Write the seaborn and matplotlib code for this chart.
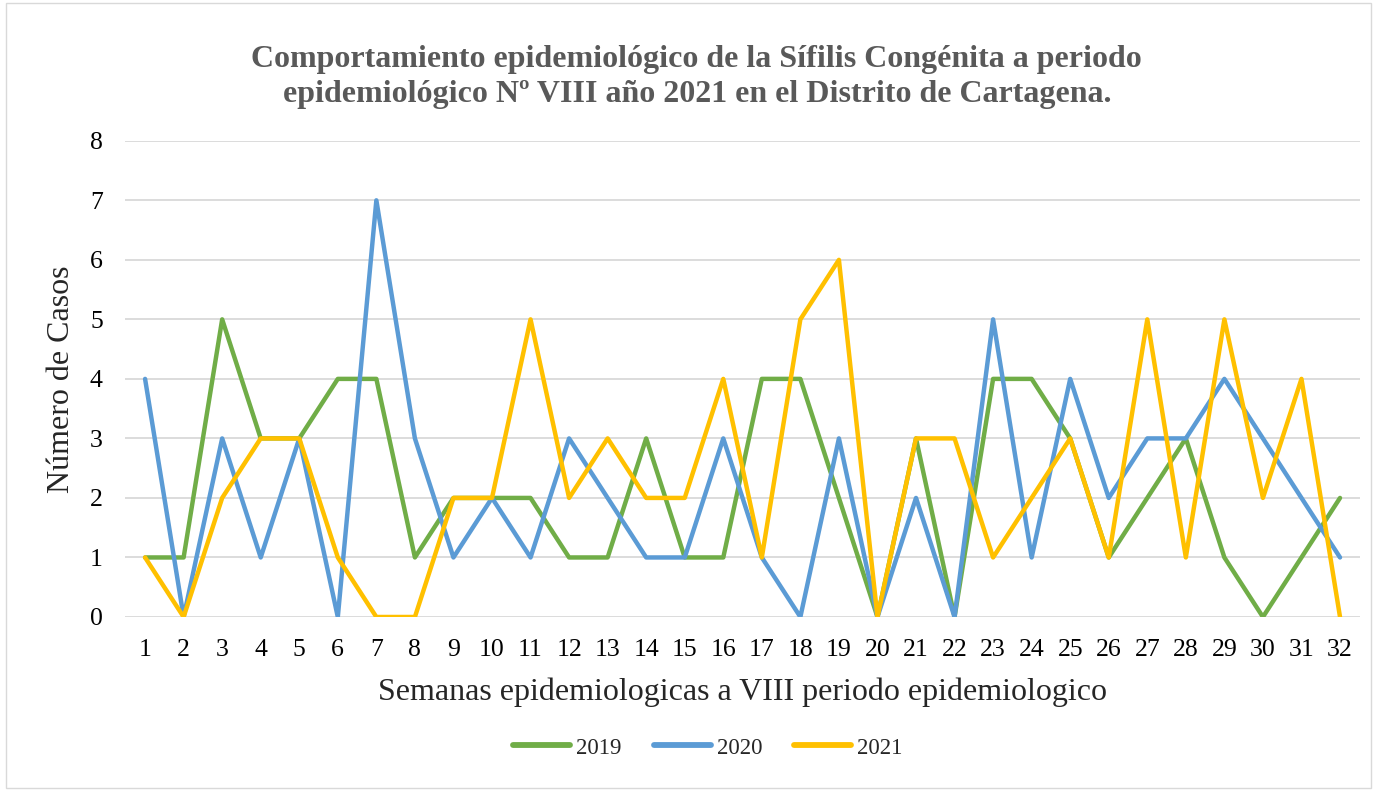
import pandas as pd
import numpy as np
import matplotlib
matplotlib.use("Agg")
import matplotlib.pyplot as plt
import seaborn as sns
from matplotlib.patches import Rectangle

semanas = list(range(1, 33))
casos_2019 = [1, 1, 5, 3, 3, 4, 4, 1, 2, 2, 2, 1, 1, 3, 1, 1,
              4, 4, 2, 0, 3, 0, 4, 4, 3, 1, 2, 3, 1, 0, 1, 2]
casos_2020 = [4, 0, 3, 1, 3, 0, 7, 3, 1, 2, 1, 3, 2, 1, 1, 3,
              1, 0, 3, 0, 2, 0, 5, 1, 4, 2, 3, 3, 4, 3, 2, 1]
casos_2021 = [1, 0, 2, 3, 3, 1, 0, 0, 2, 2, 5, 2, 3, 2, 2, 4,
              1, 5, 6, 0, 3, 3, 1, 2, 3, 1, 5, 1, 5, 2, 4, 0]
anios = ["2019", "2020", "2021"]
colores = {"2019": "#70AD47", "2020": "#5B9BD5", "2021": "#FFC000"}

df = pd.concat([
    pd.DataFrame({"semana": semanas, "casos": v, "anio": a})
    for a, v in zip(anios, [casos_2019, casos_2020, casos_2021])
])

sns.set_style("white")
plt.rcParams['font.family'] = ['Liberation Serif', 'DejaVu Serif']

fig = plt.figure(figsize=(13.77, 7.91), dpi=100)
ax = fig.add_axes([0.0908, 0.22, 0.8969, 0.602])

sns.lineplot(data=df, x="semana", y="casos", hue="anio", palette=colores,
             linewidth=3.2, ax=ax, legend=True)

ax.set_xlim(0.48, 32.52)
ax.set_ylim(0, 8)
ax.set_xticks(semanas)
ax.set_yticks(range(0, 9))
ax.tick_params(axis='both', labelsize=18.5, length=0, colors='black')
ax.tick_params(axis='x', pad=16)
ax.tick_params(axis='y', pad=16)
ax.grid(axis='y', color='#D9D9D9', linewidth=1.3)
ax.set_axisbelow(True)
for s in ax.spines.values():
    s.set_visible(False)

ax.set_xlabel("Semanas epidemiologicas a VIII periodo epidemiologico", fontsize=23, labelpad=12)
ax.set_ylabel("Número de Casos", fontsize=23, labelpad=10)

fig.suptitle("Comportamiento epidemiológico de la Sífilis Congénita a periodo\n"
             "epidemiológico Nº VIII año 2021 en el Distrito de Cartagena.",
             fontsize=23, fontweight='bold', color='#595959', x=0.506, y=0.943,
             va='top', linespacing=1.25)

handles, labels = ax.get_legend_handles_labels()
ax.get_legend().remove()
leg = fig.legend(handles, labels, loc='center', bbox_to_anchor=(0.514, 1 - 748 / 791),
                 ncol=3, frameon=False, fontsize=16.5, handlelength=2.5,
                 columnspacing=1.4, handletextpad=0.25)
for line in leg.get_lines():
    line.set_linewidth(4.2)
    line.set_solid_capstyle('round')

fig.patches.append(Rectangle((0.004, 0.004), 0.992, 0.992, transform=fig.transFigure,
                             fill=False, edgecolor='#D9D9D9', linewidth=1))

fig.savefig("out.png", dpi=100)
